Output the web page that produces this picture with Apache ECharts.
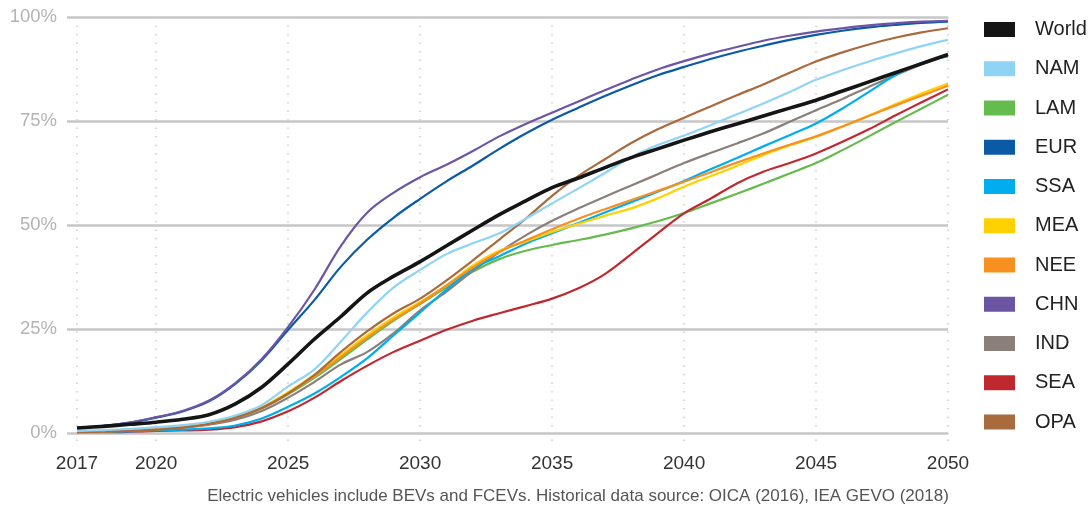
<!DOCTYPE html>
<html>
<head>
<meta charset="utf-8">
<script src="https://cdn.jsdelivr.net/npm/echarts@6/dist/echarts.min.js"></script>
<style>
  html, body { margin: 0; padding: 0; background: #ffffff; }
  #chart { width: 1090px; height: 512px; }
</style>
</head>
<body>
<div id="chart"></div>
<script>
// EV share of new car sales by region, 2017-2050 (%)
const years = [];
for (let y = 2017; y <= 2050; y++) years.push(String(y));
const labelYears = ['2017', '2020', '2025', '2030', '2035', '2040', '2045', '2050'];
const yTicks = [0, 25, 50, 75, 100];

const regionNames = ['World', 'NAM', 'LAM', 'EUR', 'SSA', 'MEA', 'NEE', 'CHN', 'IND', 'SEA', 'OPA'];

const world = [1.2, 1.6, 2.1, 2.6, 3.3, 4.4, 7.0, 11.0, 16.6, 22.6, 28.0, 33.7, 37.7, 41.2, 45.0, 48.8, 52.5, 55.8, 59.0, 61.3, 63.8, 66.2, 68.3, 70.4, 72.4, 74.3, 76.2, 78.1, 80.0, 82.2, 84.4, 86.6, 88.8, 91.0];
const nam   = [0.5, 0.7, 1.0, 1.4, 1.9, 2.7, 4.2, 6.7, 11.2, 15.3, 22.0, 29.0, 35.0, 39.2, 43.0, 45.6, 48.0, 51.5, 55.2, 58.8, 62.5, 66.3, 69.2, 71.5, 74.0, 76.6, 79.2, 82.0, 84.9, 87.2, 89.3, 91.2, 93.0, 94.5];
const lam   = [0.3, 0.4, 0.6, 0.9, 1.4, 2.2, 3.6, 5.9, 9.3, 13.3, 17.8, 22.5, 27.0, 31.0, 35.0, 38.8, 41.8, 43.8, 45.2, 46.4, 47.7, 49.2, 50.9, 52.9, 55.2, 57.5, 59.9, 62.4, 64.9, 68.0, 71.3, 74.7, 78.0, 81.3];
const eur   = [1.2, 1.7, 2.5, 3.7, 5.2, 7.6, 11.8, 17.5, 24.8, 32.0, 40.0, 46.5, 51.8, 56.3, 60.5, 64.3, 68.3, 72.0, 75.3, 78.2, 81.0, 83.6, 86.0, 88.0, 89.9, 91.6, 93.1, 94.5, 95.7, 96.7, 97.5, 98.1, 98.6, 98.9];
const ssa   = [0.3, 0.3, 0.4, 0.6, 0.8, 1.1, 1.8, 3.5, 6.3, 9.5, 13.5, 18.0, 23.5, 29.0, 34.5, 39.5, 42.5, 45.5, 48.0, 50.5, 53.0, 55.5, 58.0, 60.6, 63.4, 66.1, 68.9, 71.6, 74.4, 78.0, 82.0, 86.0, 89.0, 90.5];
const mea   = [0.3, 0.4, 0.6, 0.9, 1.4, 2.3, 3.8, 6.2, 9.8, 14.0, 18.8, 23.5, 27.8, 31.5, 35.5, 40.3, 43.8, 46.0, 48.3, 50.3, 52.2, 54.0, 56.4, 59.2, 61.7, 64.2, 66.8, 69.1, 71.2, 73.7, 76.3, 79.0, 81.6, 84.0];
const nee   = [0.3, 0.4, 0.6, 0.9, 1.4, 2.2, 3.7, 6.0, 9.5, 13.7, 18.3, 23.0, 27.3, 31.2, 35.5, 39.8, 43.5, 46.3, 49.0, 51.5, 53.8, 56.0, 58.2, 60.4, 62.7, 65.0, 67.2, 69.3, 71.3, 73.7, 76.2, 78.7, 81.1, 83.5];
const chn   = [1.2, 1.7, 2.5, 3.8, 5.3, 7.8, 12.0, 17.8, 25.5, 34.5, 45.0, 53.0, 57.8, 61.5, 64.5, 67.8, 71.3, 74.3, 77.0, 79.7, 82.4, 85.0, 87.4, 89.4, 91.2, 92.8, 94.3, 95.5, 96.5, 97.3, 98.0, 98.5, 98.9, 99.1];
const ind   = [0.3, 0.4, 0.6, 0.9, 1.3, 2.0, 3.2, 5.3, 8.5, 12.3, 16.5, 19.5, 24.0, 29.5, 34.0, 39.0, 43.5, 47.5, 51.0, 54.0, 56.8, 59.5, 62.2, 64.9, 67.3, 69.6, 72.0, 74.8, 77.6, 80.3, 83.2, 86.0, 88.6, 90.9];
const sea   = [0.2, 0.2, 0.3, 0.5, 0.6, 0.8, 1.4, 2.8, 5.2, 8.5, 12.5, 16.2, 19.5, 22.2, 24.8, 27.0, 28.8, 30.5, 32.3, 34.8, 38.2, 43.0, 48.0, 52.8, 56.3, 60.0, 62.8, 64.9, 67.2, 70.0, 73.0, 76.3, 79.5, 82.6];
const opa   = [0.2, 0.3, 0.5, 0.8, 1.3, 2.2, 3.7, 6.0, 9.5, 14.0, 19.5, 24.5, 28.8, 32.3, 36.7, 41.5, 46.5, 51.5, 57.0, 61.8, 65.8, 69.7, 73.0, 75.8, 78.5, 81.2, 83.8, 86.6, 89.3, 91.5, 93.4, 95.0, 96.3, 97.3];

const footnote = 'Electric vehicles include BEVs and FCEVs. Historical data source: OICA (2016), IEA GEVO (2018)';

const palette = {
  World: '#151515', NAM: '#8fd4f4', LAM: '#66bb4f', EUR: '#0b5aa6', SSA: '#00adee',
  MEA: '#ffd100', NEE: '#f7901e', CHN: '#6c56a4', IND: '#8b7f7a', SEA: '#c0282f', OPA: '#a96a3e'
};
const valuesByRegion = { World: world, NAM: nam, LAM: lam, EUR: eur, SSA: ssa, MEA: mea, NEE: nee, CHN: chn, IND: ind, SEA: sea, OPA: opa };

// drawing order: lower layers first, World on top
const drawOrder = ['LAM', 'SEA', 'IND', 'SSA', 'MEA', 'NEE', 'OPA', 'NAM', 'EUR', 'CHN', 'World'];

const FONT = '"Liberation Sans", Arial, sans-serif';
const isLabelYear = (i, v) => labelYears.indexOf(v) !== -1;

const series = drawOrder.map((name, k) => ({
  name: name,
  type: 'line',
  data: valuesByRegion[name],
  smooth: 0.35,
  symbol: 'none',
  z: 3 + k,
  lineStyle: { color: palette[name], width: name === 'World' ? 3.6 : 2.2 },
  itemStyle: { color: palette[name] },
  emphasis: { disabled: true }
}));

const chart = echarts.init(document.getElementById('chart'), null, { renderer: 'canvas' });
chart.setOption({
  animation: false,
  backgroundColor: '#ffffff',
  grid: { left: 77, right: 142, top: 17, bottom: 79, containLabel: false },
  xAxis: {
    type: 'category',
    data: years,
    boundaryGap: false,
    axisLine: { show: false },
    axisTick: {
      show: true, interval: isLabelYear, length: 8, inside: false,
      lineStyle: { color: '#c9c9c9', width: 1.5, type: [1.5, 5] }
    },
    axisLabel: {
      interval: isLabelYear, color: '#333333', fontSize: 19, fontFamily: FONT, margin: 21
    },
    splitLine: {
      show: true, interval: isLabelYear,
      lineStyle: { color: '#cccccc', width: 1.5, type: [1.5, 7] }
    }
  },
  yAxis: {
    type: 'value',
    min: yTicks[0], max: yTicks[yTicks.length - 1], interval: 25,
    axisLine: { show: false },
    axisTick: { show: true, length: 10, lineStyle: { color: '#c6c6c6', width: 2.5 } },
    axisLabel: { formatter: '{value}%', color: '#b3b3b3', fontSize: 18.5, fontFamily: FONT, margin: 20 },
    splitLine: { show: true, lineStyle: { color: '#c6c6c6', width: 2.5 } }
  },
  legend: {
    data: regionNames,
    orient: 'vertical',
    left: 984, top: 19.5,
    padding: 0,
    icon: 'rect',
    itemWidth: 31, itemHeight: 15, itemGap: 19.25,
    selectedMode: false,
    textStyle: { color: '#222222', fontSize: 20, fontFamily: FONT, padding: [0, 0, 0, 15] }
  },
  graphic: [{
    type: 'text',
    x: 578, y: 496,
    style: {
      text: footnote, fill: '#555555', fontSize: 17, fontFamily: FONT,
      textAlign: 'center', textVerticalAlign: 'middle'
    }
  }],
  series: series
});
</script>
</body>
</html>
